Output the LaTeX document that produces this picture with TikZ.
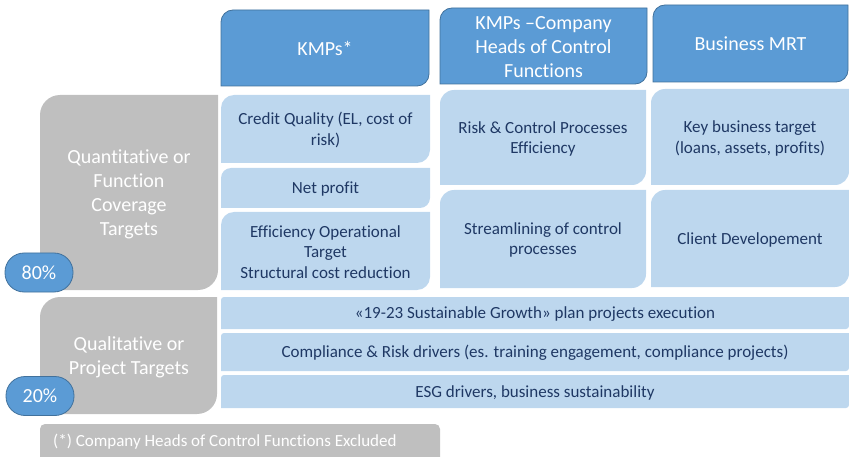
\documentclass[tikz,border=0pt]{standalone}
\usepackage{fontspec}
\setmainfont{Carlito}[Ligatures=CommonOff]

\definecolor{headblue}{HTML}{5B9BD5}
\definecolor{headline}{HTML}{41719C}
\definecolor{cellblue}{HTML}{BDD7EE}
\definecolor{sidegray}{HTML}{BFBFBF}
\definecolor{navy}{HTML}{1F3864}

% box with rounded top-left and bottom-right corners
% #1 style, #2 x1, #3 y1, #4 x2, #5 y2, #6 radius
\newcommand\diagbox[6]{%
  \path[#1] (#2,#5) -- (#2,#3+#6) arc[start angle=180,end angle=270,radius=#6]
    -- (#4,#3) -- (#4,#5-#6) arc[start angle=0,end angle=90,radius=#6] -- cycle;}

\tikzset{
  head/.style={fill=headblue,draw=headline,line width=0.8pt},
  cell/.style={fill=cellblue},
  side/.style={fill=sidegray},
  headtext/.style={text=white,align=center,font=\fontsize{20}{24}\selectfont},
  celltext/.style={text=navy,align=center,font=\fontsize{17}{20.5}\selectfont},
  sidetext/.style={text=white,align=center,font=\fontsize{20}{24}\selectfont},
  share/.style={fill=headblue,draw=headline,line width=0.8pt,rounded corners=19pt,
    minimum width=68pt,minimum height=39pt,text=white,font=\fontsize{20}{24}\selectfont},
}

\begin{document}
\begin{tikzpicture}[x=1pt,y=-1pt]

	\useasboundingbox (0,0) rectangle (849,457);
	\clip (0,0) rectangle (849,457);

	% column heads
	\diagbox{head}{221}{10}{429}{86}{12}
	\diagbox{head}{440}{8}{647}{84}{12}
	\diagbox{head}{653}{5}{848}{82}{12}
	\node[headtext] (kmp) at (325,48) {KMPs*};
	\node[headtext] (heads) at (543.5,47) {KMPs --Company\\Heads of Control\\Functions};
	\node[headtext] (mrt) at (750.5,44) {Business MRT};

	% quantitative targets
	\diagbox{side}{40}{95}{218}{290}{20}
	\node[sidetext] (quant) at (129,194) {Quantitative or\\Function\\Coverage\\Targets};

	\diagbox{cell}{221}{95}{430}{163}{13}
	\diagbox{cell}{221}{168}{430}{208}{10}
	\diagbox{cell}{221}{212}{430}{290}{13}
	\node[celltext] (credit) at (325.5,130) {Credit Quality (EL, cost of\\risk)};
	\node[celltext] (netprofit) at (325.5,189) {Net profit};
	\node[celltext] (effic) at (325.5,252) {Efficiency Operational\\Target\\Structural cost reduction};

	\diagbox{cell}{440}{90}{646}{185}{14}
	\diagbox{cell}{440}{190}{646}{288}{14}
	\node[celltext] (riskctrl) at (543,139) {Risk \& Control Processes\\Efficiency};
	\node[celltext] (stream) at (543,240) {Streamlining of control\\processes};

	\diagbox{cell}{651}{89}{849}{185}{14}
	\diagbox{cell}{651}{190}{849}{287}{14}
	\node[celltext] (keybiz) at (750,138.5) {Key business target\\(loans, assets, profits)};
	\node[celltext] (client) at (750,239.5) {Client Developement};

	\node[share] (pct80) at (39,272.5) {80\%};

	% qualitative targets
	\diagbox{side}{40}{297}{217}{414}{20}
	\node[sidetext] (qual) at (129,357) {Qualitative or\\Project Targets};

	\diagbox{cell}{221}{297}{849}{329}{3}
	\diagbox{cell}{221}{333}{849}{371}{3}
	\diagbox{cell}{221}{375}{849}{408}{3}
	\node[celltext] (plan) at (535,314) {«19-23 Sustainable Growth» plan projects execution};
	\node[celltext] (compl) at (535,353) {Compliance \& Risk drivers (es. training engagement, compliance projects)};
	\node[celltext] (esg) at (535,392.5) {ESG drivers, business sustainability};

	\node[share] (pct20) at (40,396) {20\%};

	% footnote
	\fill[sidegray,rounded corners=5] (40,424) rectangle (440,465);
	\node[celltext,text=white,anchor=west,inner sep=0pt] (note) at (53,442) {(*) Company Heads of Control Functions Excluded};

\end{tikzpicture}
\end{document}
